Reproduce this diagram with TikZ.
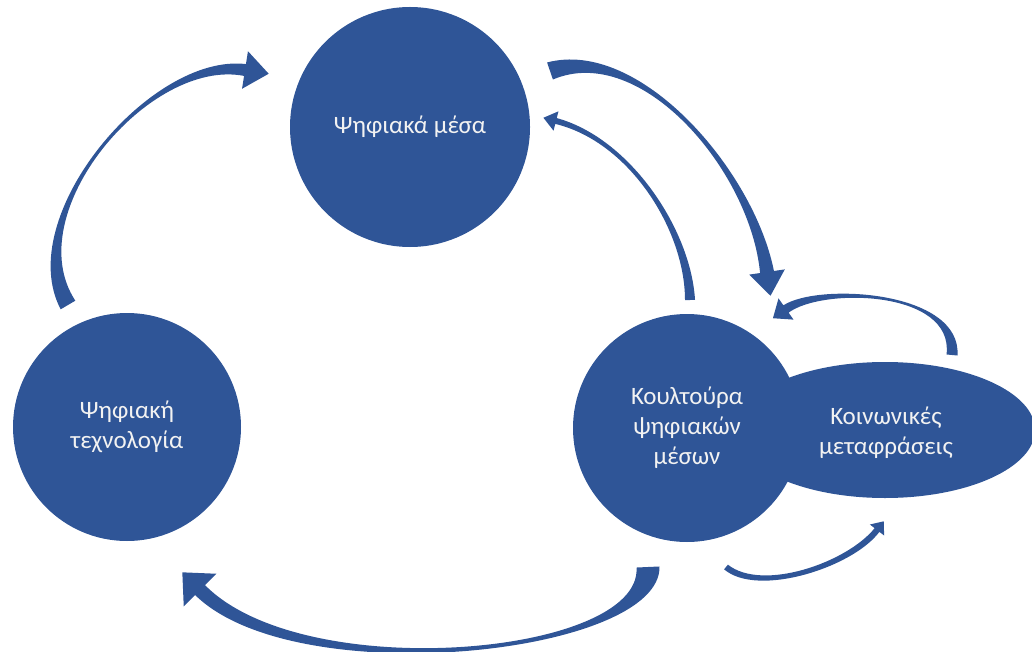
\documentclass[tikz,border=0pt]{standalone}
\usepackage{fontspec}
\setmainfont{Carlito}
\usetikzlibrary{shapes.geometric,calc}
\definecolor{blu}{RGB}{47,85,151}
\definecolor{txt}{RGB}{242,242,242}
\tikzset{
  bubble/.style={circle, fill=blu, inner sep=0pt, text=txt, align=center,
    font=\fontsize{25}{30}\selectfont},
  oval/.style={ellipse, fill=blu, inner sep=0pt},
  label text/.style={text=txt, align=center, font=\fontsize{25}{30}\selectfont},
  blockarrow/.style={fill=blu}
}
% #1 start, #2 ctrl1, #3 ctrl2, #4 end of shaft, #5 tail half width,
% #6 shaft half width at head, #7 barb half width, #8 head length, #9 middle factor
\newcommand\blockarc[9]{%
  \coordinate (bS) at #1; \coordinate (bC1) at #2;
  \coordinate (bC2) at #3; \coordinate (bE) at #4;
  \coordinate (bSa) at ($(bS)!#5!90:(bC1)$);
  \coordinate (bSb) at ($(bS)!#5!-90:(bC1)$);
  \coordinate (bEa) at ($(bE)!#6!-90:(bC2)$);
  \coordinate (bEb) at ($(bE)!#6!90:(bC2)$);
  \coordinate (bHa) at ($(bE)!#7!-90:(bC2)$);
  \coordinate (bHb) at ($(bE)!#7!90:(bC2)$);
  \coordinate (bT) at ($(bE)!-#8!(bC2)$);
  \coordinate (bC1a) at ($(bC1)+#9*(bSa)-#9*(bS)$);
  \coordinate (bC1b) at ($(bC1)+#9*(bSb)-#9*(bS)$);
  \coordinate (bC2a) at ($(bC2)+#9*(bEa)-#9*(bE)$);
  \coordinate (bC2b) at ($(bC2)+#9*(bEb)-#9*(bE)$);
  \fill[blockarrow] (bSa) .. controls (bC1a) and (bC2a) .. (bEa) -- (bHa) -- (bT)
     -- (bHb) -- (bEb) .. controls (bC2b) and (bC1b) .. (bSb) -- cycle;
}
\begin{document}
\begin{tikzpicture}[x=1pt,y=-1pt]
\useasboundingbox (0,0) rectangle (1032,652);
% nodes
\node[oval, minimum width=300pt, minimum height=136pt] (soc) at (885,430) {};
\node[label text] (soct) at (886,433) {Κοινωνικές\\μεταφράσεις};
\node[bubble, minimum size=240pt] (media) at (410,127) {Ψηφιακά μέσα};
\node[bubble, minimum size=228pt] (tech) at (127,427) {Ψηφιακή\\τεχνολογία};
\node[bubble, minimum size=228pt] (cult) at (687,428) {Κουλτούρα\\ψηφιακών\\μέσων};
% technology -> media
\blockarc{(68,305)}{(15,215)}{(150,55)}{(245,70)}{8.5pt}{6pt}{19pt}{24pt}{0.4}
% media -> culture (outer)
\blockarc{(550,71)}{(640,40)}{(752,170)}{(767,272)}{9pt}{7pt}{18pt}{24pt}{0.25}
% culture -> media (inner, thin)
\blockarc{(690,300)}{(688,230)}{(630,140)}{(556,121)}{5pt}{3pt}{10pt}{13pt}{0.6}
% social -> culture (top loop)
\blockarc{(952,355)}{(958,290)}{(820,285)}{(786,309)}{5.5pt}{4.5pt}{13pt}{16pt}{0.7}
% culture -> technology (bottom)
\blockarc{(648,567)}{(652,655)}{(300,690)}{(200,590)}{11.5pt}{7pt}{23pt}{25pt}{0.85}
% culture -> social (small bottom)
\blockarc{(726,567)}{(760,595)}{(850,565)}{(877,530)}{3pt}{3pt}{9pt}{11pt}{1.3}
\end{tikzpicture}
\end{document}
